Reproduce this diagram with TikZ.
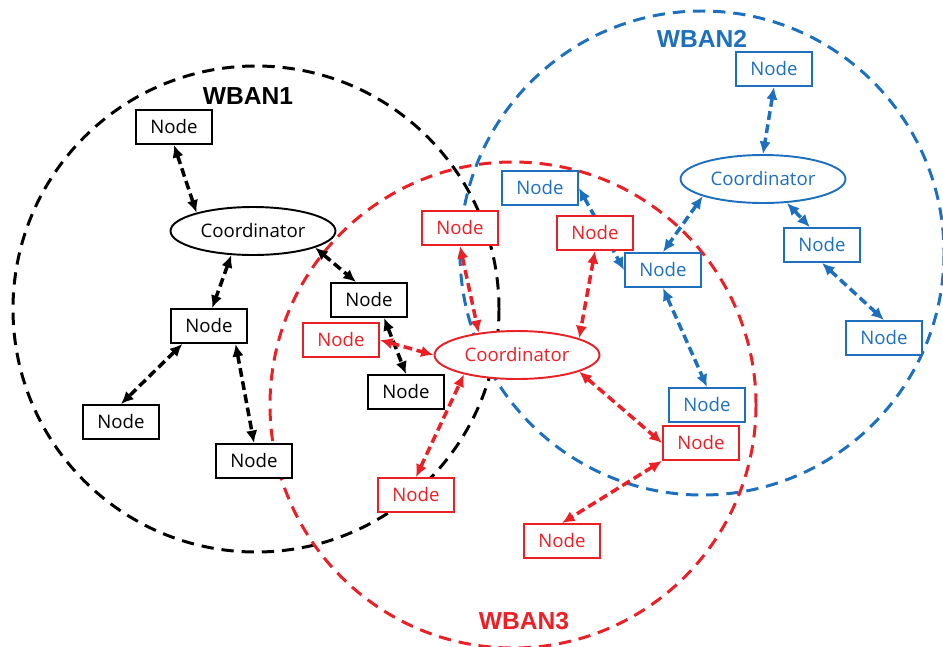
\documentclass[tikz,border=0pt]{standalone}
\usepackage{fontspec}
\setmainfont{Open Sans}
\newfontfamily\wbanfont{Liberation Sans}
\usepackage{xcolor}
\usetikzlibrary{arrows.meta,shapes.geometric}
\definecolor{wblue}{RGB}{30,112,190}
\definecolor{wred}{RGB}{235,32,38}
\pgfdeclarelayer{zones}
\pgfdeclarelayer{links}
\pgfsetlayers{zones,links,main}
\tikzset{%
      sensor/.style = { draw, fill=white, line width=1.1pt, minimum width=1.52cm, minimum height=0.68cm, inner sep=0pt, font=\fontsize{10.6}{12}\selectfont },
         hub/.style = { sensor, ellipse, minimum width=3.3cm, minimum height=0.96cm },
    bluenode/.style = { draw=wblue, text=wblue },
     rednode/.style = { draw=wred, text=wred },
        link/.style = { line width=2pt, dash pattern=on 5pt off 2.6pt, {Latex[length=2.5mm,width=2.3mm]}-{Latex[length=2.5mm,width=2.3mm]} },
        zone/.style = { line width=1.7pt, dash pattern=on 7pt off 4.5pt },
       title/.style = { font=\wbanfont\bfseries\fontsize{14}{16}\selectfont }
}
\begin{document}
\begin{tikzpicture}[x=0.02cm,y=-0.02cm]
\useasboundingbox (0,0) rectangle (943,646);
%WBAN1
\node[hub] (c1) at (253,231) {Coordinator};
\node[sensor] (n11) at (174,127) {Node};
\node[sensor] (n12) at (209,326) {Node};
\node[sensor] (n13) at (121,422) {Node};
\node[sensor] (n14) at (254,461) {Node};
\node[sensor] (n15) at (369,300) {Node};
\node[sensor] (n16) at (406,392) {Node};
\node[title] (t1) at (248,96) {WBAN1};
%WBAN2
\node[hub,bluenode] (c2) at (763,179) {Coordinator};
\node[sensor,bluenode] (n21) at (774,69) {Node};
\node[sensor,bluenode] (n22) at (822,245) {Node};
\node[sensor,bluenode] (n23) at (884,338) {Node};
\node[sensor,bluenode] (n24) at (663,270) {Node};
\node[sensor,bluenode] (n25) at (540,188) {Node};
\node[sensor,bluenode] (n26) at (707,405) {Node};
\node[title,wblue] (t2) at (702,39) {WBAN2};
%WBAN3
\node[hub,rednode] (c3) at (517,355) {Coordinator};
\node[sensor,rednode] (n31) at (460,228) {Node};
\node[sensor,rednode] (n32) at (595,233) {Node};
\node[sensor,rednode] (n33) at (341,340) {Node};
\node[sensor,rednode] (n34) at (416,495) {Node};
\node[sensor,rednode] (n35) at (701,443) {Node};
\node[sensor,rednode] (n36) at (562,541) {Node};
\node[title,wred] (t3) at (524,621) {WBAN3};
\begin{pgfonlayer}{zones}
\draw[zone] (256,309) circle (243);
\draw[zone,wblue] (702,253) circle (242);
\draw[zone,wred] (513,405) circle (243);
\end{pgfonlayer}
\begin{pgfonlayer}{links}
\draw[link] (n11.south) -- (c1.162);
\draw[link] (c1.228) -- (n12.80);
\draw[link] (c1.345) -- (n15.126);
\draw[link] (n12.214) -- (n13.north);
\draw[link] (n12.326) -- (n14.north);
\draw[link] (n15.310) -- (n16.north);
\draw[link,wblue] (n21.south) -- (c2.north);
\draw[link,wblue] (c2.196) -- (n24.north);
\draw[link,wblue] (c2.315) -- (n22.124);
\draw[link,wblue] (n22.south) -- (n23.north);
\draw[link,wblue] (n25.east) -- (n24.west);
\draw[link,wblue] (n24.south) -- (n26.north);
\draw[link,wred] (n31.south) -- (c3.150);
\draw[link,wred] (n32.south) -- (c3.15);
\draw[link,wred] (n33.east) -- (c3.west);
\draw[link,wred] (n34.north) -- (c3.200);
\draw[link,wred] (c3.345) -- (n35.west);
\draw[link,wred] (n35.south west) -- (n36.north);
\end{pgfonlayer}
\end{tikzpicture}
\end{document}
